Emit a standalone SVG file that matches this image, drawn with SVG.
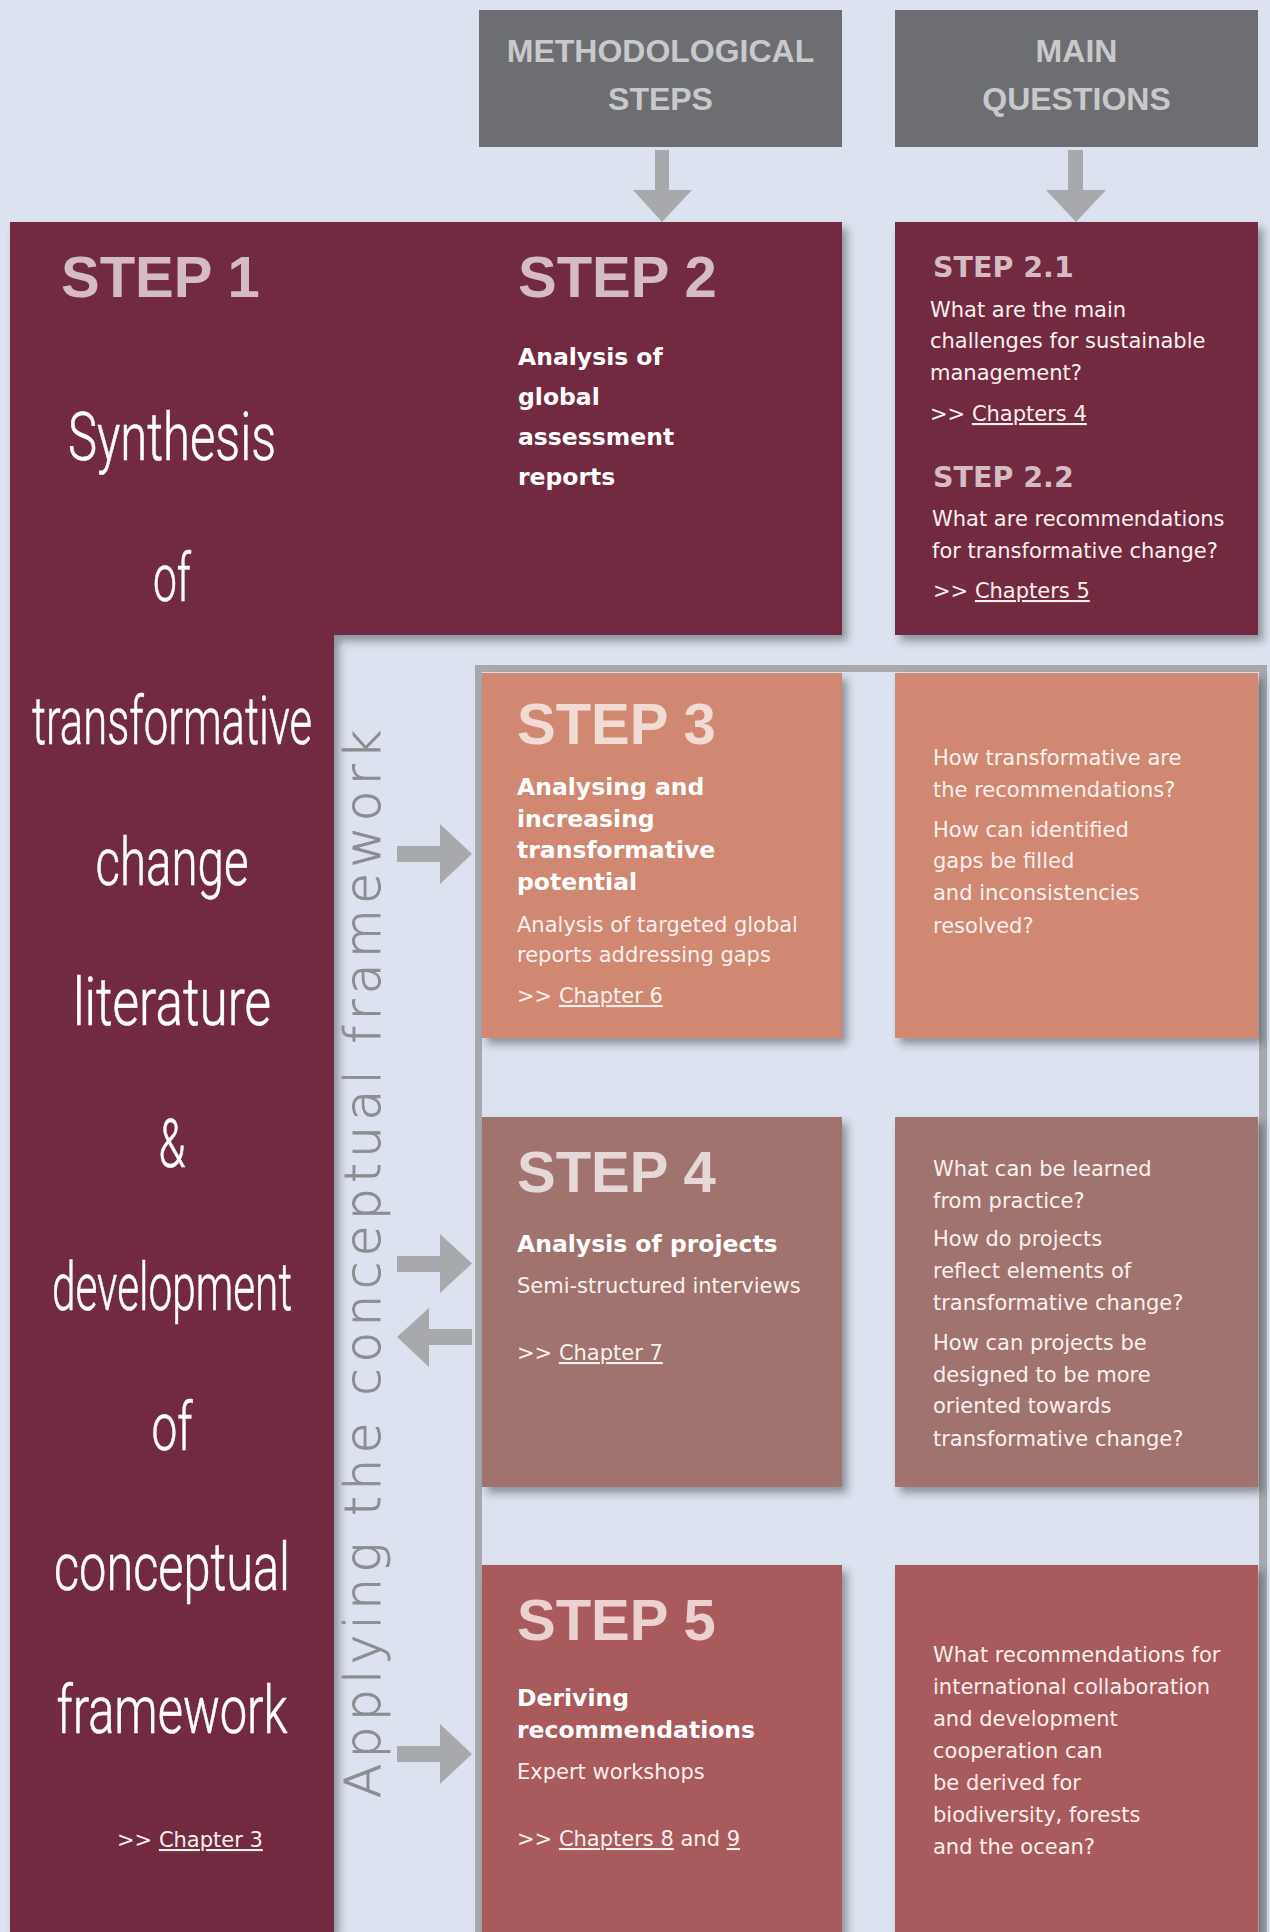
<svg xmlns="http://www.w3.org/2000/svg" width="1270" height="1932" viewBox="0 0 1270 1932">
<defs>
<filter id="sh" x="-10%" y="-10%" width="125%" height="125%">
<feDropShadow dx="5" dy="6" stdDeviation="4" flood-color="#2a2a35" flood-opacity="0.45"/>
</filter>
<style>
.hdr{fill:#6d6e71}
.hdrt{font-family:"Liberation Sans",Arial,sans-serif;font-weight:bold;font-size:32px;fill:#c9c9cb;text-anchor:middle}
.maroon{fill:#722a41}
.s3{fill:#d08873}
.s4{fill:#a0736e}
.s5{fill:#a85a5b}
.frame{fill:#a7a9ac}
.arr{fill:#a7a9ac}
.big{font-family:"Liberation Sans",Arial,sans-serif;font-weight:bold;font-size:58px}
.sub{font-family:"DejaVu Sans",Verdana,sans-serif;font-weight:bold;font-size:28.5px;fill:#d5bcc3}
.b{font-family:"DejaVu Sans",Verdana,sans-serif;font-weight:bold;font-size:23.5px;fill:#ffffff}
.r{font-family:"DejaVu Sans",Verdana,sans-serif;font-size:21px;fill:#f8f0ef}
.cond{font-family:Roboto,"Liberation Sans",sans-serif;font-weight:300;font-size:66px;fill:#ffffff;text-anchor:middle;stroke:#ffffff;stroke-width:0.6}
.vert{font-family:"DejaVu Sans",sans-serif;font-weight:200;font-size:50px;fill:#8b8d90;stroke:#8b8d90;stroke-width:0.9}
.u{text-decoration:underline}
</style>
</defs>
<rect x="0" y="0" width="1270" height="1932" fill="#dce2ef"/>

<g id="frame">
<rect class="frame" x="475" y="665" width="792" height="7"/>
<rect class="frame" x="475" y="665" width="7" height="1267"/>
<rect class="frame" x="1259" y="665" width="8" height="1267"/>
</g>

<g id="header-methodological">
<rect class="hdr" x="479" y="10" width="363" height="137"/>
<text class="hdrt" x="660.5" y="62">METHODOLOGICAL</text>
<text class="hdrt" x="660.5" y="110">STEPS</text>
</g>
<g id="header-questions">
<rect class="hdr" x="895" y="10" width="363" height="137"/>
<text class="hdrt" x="1076.5" y="62">MAIN</text>
<text class="hdrt" x="1076.5" y="110">QUESTIONS</text>
</g>

<path class="maroon" filter="url(#sh)" d="M10,222 H842 V635 H334 V1932 H10 Z"/>

<g id="step1">
<rect class="maroon" x="10" y="222" width="324" height="1710"/>
<text class="big" x="61" y="297" fill="#d5bcc3">STEP 1</text>
<text class="cond" x="172" y="460" textLength="208" lengthAdjust="spacingAndGlyphs">Synthesis</text>
<text class="cond" x="172" y="601" textLength="38" lengthAdjust="spacingAndGlyphs">of</text>
<text class="cond" x="172" y="744" textLength="280" lengthAdjust="spacingAndGlyphs">transformative</text>
<text class="cond" x="172" y="885" textLength="153" lengthAdjust="spacingAndGlyphs">change</text>
<text class="cond" x="172" y="1025" textLength="198" lengthAdjust="spacingAndGlyphs">literature</text>
<text class="cond" x="172" y="1167" textLength="27" lengthAdjust="spacingAndGlyphs">&amp;</text>
<text class="cond" x="172" y="1310" textLength="240" lengthAdjust="spacingAndGlyphs">development</text>
<text class="cond" x="172" y="1450" textLength="41" lengthAdjust="spacingAndGlyphs">of</text>
<text class="cond" x="172" y="1590" textLength="236" lengthAdjust="spacingAndGlyphs">conceptual</text>
<text class="cond" x="172" y="1733" textLength="231" lengthAdjust="spacingAndGlyphs">framework</text>
<text class="r" x="117" y="1847" font-size="20" fill="#e6d3d8">&gt;&gt; <tspan class="u">Chapter 3</tspan></text>
</g>

<g id="step2">
<rect class="maroon" x="285" y="222" width="557" height="413"/>
<text class="big" x="518" y="297" fill="#d5bcc3">STEP 2</text>
<text class="b" x="518" y="365">Analysis of</text>
<text class="b" x="518" y="405">global</text>
<text class="b" x="518" y="445">assessment</text>
<text class="b" x="518" y="485">reports</text>
</g>

<g id="step2-questions">
<rect class="maroon" filter="url(#sh)" x="895" y="222" width="363" height="413"/>
<text class="sub" x="933" y="277">STEP 2.1</text>
<text class="r" x="930" y="317">What are the main</text>
<text class="r" x="930" y="348">challenges for sustainable</text>
<text class="r" x="930" y="380">management?</text>
<text class="r" x="930" y="421">&gt;&gt; <tspan class="u">Chapters 4</tspan></text>
<text class="sub" x="933" y="487">STEP 2.2</text>
<text class="r" x="932" y="526">What are recommendations</text>
<text class="r" x="932" y="558">for transformative change?</text>
<text class="r" x="933" y="598">&gt;&gt; <tspan class="u">Chapters 5</tspan></text>
</g>

<g id="vertical-label">
<text class="vert" transform="translate(380,1798) rotate(-90)" x="0" y="0" textLength="1068" lengthAdjust="spacing">Applying the conceptual framework</text>
</g>

<g id="step3">
<rect class="s3" filter="url(#sh)" x="482" y="673" width="360" height="365"/>
<text class="big" x="517" y="744" fill="#f1dbd3">STEP 3</text>
<text class="b" x="517" y="795">Analysing and</text>
<text class="b" x="517" y="827">increasing</text>
<text class="b" x="517" y="858">transformative</text>
<text class="b" x="517" y="890">potential</text>
<text class="r" x="517" y="932">Analysis of targeted global</text>
<text class="r" x="517" y="962">reports addressing gaps</text>
<text class="r" x="517" y="1003">&gt;&gt; <tspan class="u">Chapter 6</tspan></text>
</g>
<g id="step3-questions">
<rect class="s3" filter="url(#sh)" x="895" y="673" width="363" height="365"/>
<text class="r" x="933" y="765">How transformative are</text>
<text class="r" x="933" y="797">the recommendations?</text>
<text class="r" x="933" y="837">How can identified</text>
<text class="r" x="933" y="868">gaps be filled</text>
<text class="r" x="933" y="900">and inconsistencies</text>
<text class="r" x="933" y="933">resolved?</text>
</g>

<g id="step4">
<rect class="s4" filter="url(#sh)" x="482" y="1117" width="360" height="370"/>
<text class="big" x="517" y="1192" fill="#e6d8d7">STEP 4</text>
<text class="b" x="517" y="1252">Analysis of projects</text>
<text class="r" x="517" y="1293">Semi-structured interviews</text>
<text class="r" x="517" y="1360">&gt;&gt; <tspan class="u">Chapter 7</tspan></text>
</g>
<g id="step4-questions">
<rect class="s4" filter="url(#sh)" x="895" y="1117" width="363" height="370"/>
<text class="r" x="933" y="1176">What can be learned</text>
<text class="r" x="933" y="1208">from practice?</text>
<text class="r" x="933" y="1246">How do projects</text>
<text class="r" x="933" y="1278">reflect elements of</text>
<text class="r" x="933" y="1310">transformative change?</text>
<text class="r" x="933" y="1350">How can projects be</text>
<text class="r" x="933" y="1382">designed to be more</text>
<text class="r" x="933" y="1413">oriented towards</text>
<text class="r" x="933" y="1446">transformative change?</text>
</g>

<g id="step5">
<rect class="s5" filter="url(#sh)" x="482" y="1565" width="360" height="380"/>
<text class="big" x="517" y="1640" fill="#ecd1d1">STEP 5</text>
<text class="b" x="517" y="1706">Deriving</text>
<text class="b" x="517" y="1738">recommendations</text>
<text class="r" x="517" y="1779">Expert workshops</text>
<text class="r" x="517" y="1846">&gt;&gt; <tspan class="u">Chapters 8</tspan> and <tspan class="u">9</tspan></text>
</g>
<g id="step5-questions">
<rect class="s5" filter="url(#sh)" x="895" y="1565" width="363" height="380"/>
<text class="r" x="933" y="1662">What recommendations for</text>
<text class="r" x="933" y="1694">international collaboration</text>
<text class="r" x="933" y="1726">and development</text>
<text class="r" x="933" y="1758">cooperation can</text>
<text class="r" x="933" y="1790">be derived for</text>
<text class="r" x="933" y="1822">biodiversity, forests</text>
<text class="r" x="933" y="1854">and the ocean?</text>
</g>

<g id="connectors">
<polygon class="arr" points="655,150 669,150 669,190 692,190 662,222 633,190 655,190"/>
<polygon class="arr" points="1068,150 1083,150 1083,190 1106,190 1076,222 1046,190 1068,190"/>
<polygon class="arr" points="397,846 440,846 440,824 472,854 440,884 440,862 397,862"/>
<polygon class="arr" points="397,1256 440,1256 440,1234 472,1263.5 440,1293 440,1272 397,1272"/>
<polygon class="arr" points="472,1329 429,1329 429,1308 397,1337 429,1367 429,1345 472,1345"/>
<polygon class="arr" points="397,1746 440,1746 440,1724 472,1754 440,1784 440,1762 397,1762"/>
</g>
</svg>
